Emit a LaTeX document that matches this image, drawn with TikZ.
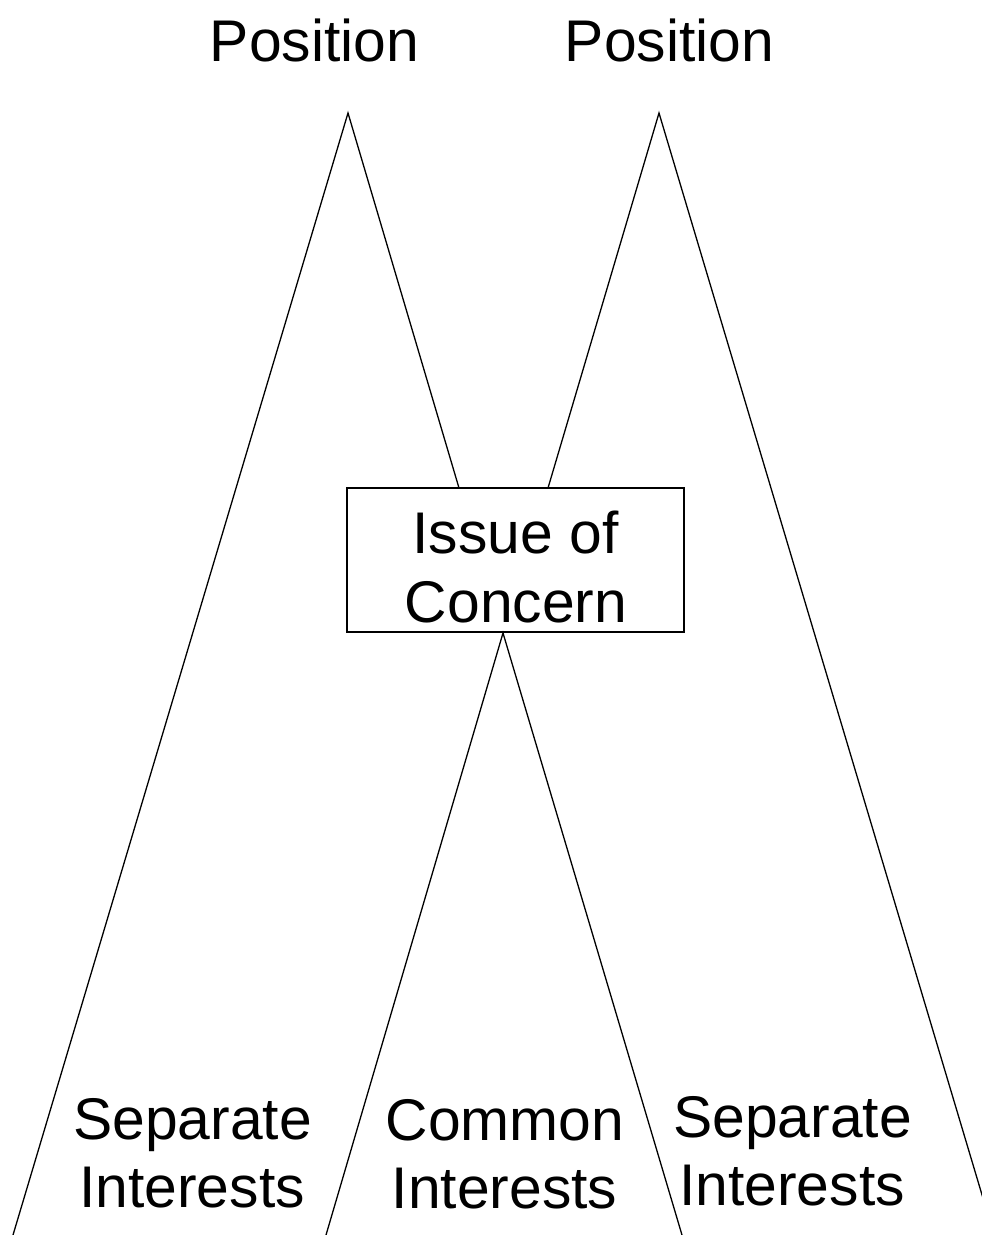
\documentclass[tikz,border=0pt]{standalone}
\usepackage{fontspec}
\setmainfont{Liberation Sans}
\begin{document}
\begin{tikzpicture}[x=1pt,y=-1pt,
  leg/.style={line width=1.3pt},
  lbl/.style={font=\fontsize{58.8}{70}\selectfont, inner sep=0pt, anchor=base},
  issuebox/.style={draw, line width=1.3pt, minimum width=337pt,
                   minimum height=144pt, inner sep=0pt}]
\useasboundingbox (0,0) rectangle (982,1235);

% central box
\node[issuebox] (box) at (515.5,560) {};
\node[lbl] (issue1) at (515.5,553) {Issue of};
\node[lbl] (issue2) at (516,622) {Concern};

% apexes and leg ends
\coordinate (apexL) at (348,113);
\coordinate (apexR) at (659,113);
\coordinate (apexC) at (503,633);
\coordinate (boxL) at (459,488);
\coordinate (boxR) at (548,488);
\coordinate (footLL) at (13,1235);
\coordinate (footRR) at (994,1235);
\coordinate (footCL) at (326,1235);
\coordinate (footCR) at (682,1235);

\begin{scope}
  \clip (0,0) rectangle (982,1235);
  \draw[leg] (footLL) -- (apexL) -- (boxL);
  \draw[leg] (boxR) -- (apexR) -- (footRR);
  \draw[leg] (footCL) -- (apexC) -- (footCR);
\end{scope}

% labels
\node[lbl] (posL) at (314.5,61) {Position};
\node[lbl] (posR) at (669.5,61) {Position};
\node[lbl] (sepL1) at (192.5,1139) {Separate};
\node[lbl] (sepL2) at (192,1207) {Interests};
\node[lbl] (comC1) at (505,1140) {Common};
\node[lbl] (comC2) at (504.5,1208) {Interests};
\node[lbl] (sepR1) at (792.5,1137) {Separate};
\node[lbl] (sepR2) at (792,1205) {Interests};
\end{tikzpicture}
\end{document}
